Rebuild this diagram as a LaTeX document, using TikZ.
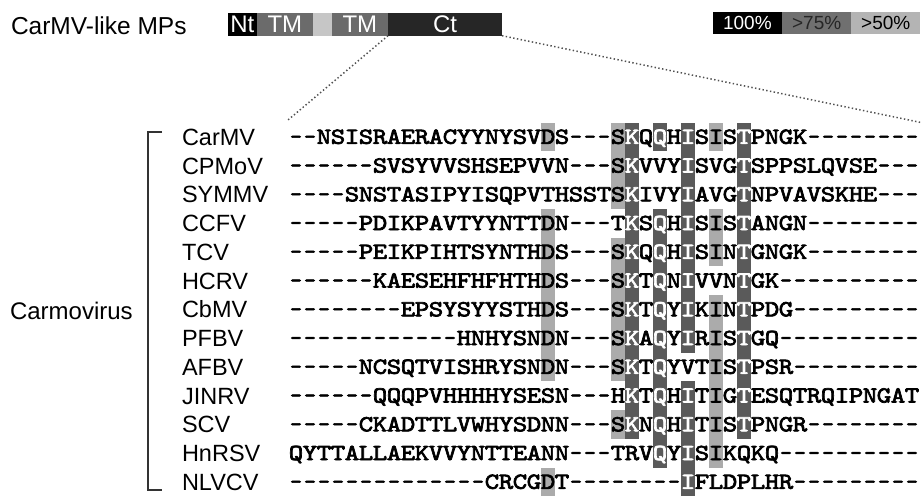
\documentclass[tikz,border=0pt]{standalone}
\usepackage{fontspec}
\setmainfont{Liberation Sans}
\newfontfamily\seqff{lmmono10-regular.otf}[FakeBold=3,FakeStretch=1.2]
\newfontfamily\dashff{lmmono10-regular.otf}[FakeBold=2]
\definecolor{dk}{HTML}{5A5A5A}
\definecolor{lt}{HTML}{ABABAB}
\definecolor{tmgray}{HTML}{6B6B6B}
\definecolor{tmlight}{HTML}{C6C6C6}
\definecolor{ctdark}{HTML}{262626}
\definecolor{lg75}{HTML}{707070}
\definecolor{lg50}{HTML}{B4B4B4}
\definecolor{dotc}{HTML}{505050}
\newcount\seqcol
\newcommand\seqfont{\fontsize{23}{23}\selectfont\seqff}
\newcommand\dashfont{\fontsize{23}{23}\selectfont\dashff}
\newcommand\seqchar[1]{%
  \edef\seqname{c\seqr-\the\seqcol}%
  \ifx-#1\relax
    \node[seqd] (\seqname) at ({296+14*\the\seqcol},{143.8+28.75*\seqr}) {-};%
  \else
  \ifnum`#1>`Z\relax
    \node[seqw] (\seqname) at ({296+14*\the\seqcol},{143.8+28.75*\seqr}) {\uppercase{#1}};%
  \else
    \node[seqk] (\seqname) at ({296+14*\the\seqcol},{143.8+28.75*\seqr}) {#1};%
  \fi\fi}
\def\seqloop#1{\ifx\relax#1\else\seqchar{#1}\global\advance\seqcol by 1\relax\expandafter\seqloop\fi}
\newcommand\seqrow[2]{\global\seqcol=0\relax\def\seqr{#1}\seqloop#2\relax}
\newcommand\shadebar[4]{\fill[#4] ({289+14*#1},{122.6+28.75*#2}) rectangle ({303+14*#1},{122.6+28.75*(#3+1)});}
\begin{document}
\begin{tikzpicture}[x=1pt,y=-1pt,
  every node/.style={inner sep=0pt,outer sep=0pt},
  seqk/.style={font=\seqfont,text=black,anchor=base},
  seqw/.style={seqk,text=white},
  seqd/.style={font=\dashfont,text=black,anchor=base},
  namelbl/.style={font=\fontsize{23.5}{23.5}\selectfont,anchor=base west},
  domseg/.style={minimum height=22.4pt,text=white,font=\fontsize{24}{24}\selectfont},
  legseg/.style={minimum height=22pt,font=\fontsize{19}{19}\selectfont},
  dotline/.style={dotc,line width=1.5pt,dash pattern=on 1.4pt off 2.4pt},
  bracket/.style={line width=1.1pt,black!80}]
\useasboundingbox (0,0) rectangle (924,498);
% title
\node[anchor=base west,font=\fontsize{24.5}{24.5}\selectfont] (title) at (11,34) {CarMV-like MPs};
% domain bar
\node[domseg,fill=black,minimum width=28.7pt] (nt) at (242.35,24.5) {Nt};
\node[domseg,fill=tmgray,minimum width=56.3pt] (tm1) at (284.85,24.5) {TM};
\node[domseg,fill=tmlight,minimum width=18.7pt] (gap) at (322.35,24.5) {};
\node[domseg,fill=tmgray,minimum width=56.3pt] (tm2) at (359.85,24.5) {TM};
\node[domseg,fill=ctdark,minimum width=114pt] (ct) at (445,24.5) {Ct};
% legend
\node[legseg,fill=black,text=white,minimum width=69.3pt] (l100) at (747.35,23.3) {100\%};
\node[legseg,fill=lg75,text=black!85,minimum width=69.3pt] (l75) at (816.65,23.3) {>75\%};
\node[legseg,fill=lg50,text=black,minimum width=69pt] (l50) at (885.8,23.3) {>50\%};
% zoom lines
\coordinate (zl) at (288,120);
\coordinate (zr) at (921,122.5);
\draw[dotline] (ct.south west) -- (zl);
\draw[dotline] (ct.south east) -- (zr);
% shading bars
\shadebar{18}{0}{0}{lt}
\shadebar{18}{3}{8}{lt}
\shadebar{18}{12}{12}{lt}
\shadebar{23}{0}{2}{lt}
\shadebar{23}{4}{8}{lt}
\shadebar{23}{10}{10}{lt}
\shadebar{30}{0}{0}{lt}
\shadebar{30}{3}{4}{lt}
\shadebar{30}{6}{11}{lt}
\shadebar{24}{0}{10}{dk}
\shadebar{26}{0}{0}{dk}
\shadebar{26}{3}{11}{dk}
\shadebar{28}{0}{7}{dk}
\shadebar{28}{9}{12}{dk}
\shadebar{32}{0}{10}{dk}
% sequences
\seqrow{0}{--NSISRAERACYYNYSVDS---SkQqHiSIStPNGK--------}
\seqrow{1}{------SVSYVVSHSEPVVN---SkVVYiSVGtSPPSLQVSE---}
\seqrow{2}{----SNSTASIPYISQPVTHSSTSkIVYiAVGtNPVAVSKHE---}
\seqrow{3}{-----PDIKPAVTYYNTTDN---TkSqHiSIStANGN--------}
\seqrow{4}{-----PEIKPIHTSYNTHDS---SkQqHiSINtGNGK--------}
\seqrow{5}{------KAESEHFHFHTHDS---SkTqNiVVNtGK----------}
\seqrow{6}{--------EPSYSYYSTHDS---SkTqYiKINtPDG---------}
\seqrow{7}{------------HNHYSNDN---SkAqYiRIStGQ----------}
\seqrow{8}{-----NCSQTVISHRYSNDN---SkTqYVTIStPSR---------}
\seqrow{9}{------QQQPVHHHHYSESN---HkTqHiTIGtESQTRQIPNGAT}
\seqrow{10}{-----CKADTTLVWHYSDNN---SkNqHiTIStPNGR--------}
\seqrow{11}{QYTTALLAEKVVYNTTEANN---TRVqYiSIKQKQ----------}
\seqrow{12}{--------------CRCGDT--------iFLDPLHR---------}
% names
\node[namelbl] (n0) at (182,145.3) {CarMV};
\node[namelbl] (n1) at (182,174.05) {CPMoV};
\node[namelbl] (n2) at (182,202.8) {SYMMV};
\node[namelbl] (n3) at (182,231.55) {CCFV};
\node[namelbl] (n4) at (182,260.3) {TCV};
\node[namelbl] (n5) at (182,289.05) {HCRV};
\node[namelbl] (n6) at (182,317.8) {CbMV};
\node[namelbl] (n7) at (182,346.55) {PFBV};
\node[namelbl] (n8) at (182,375.3) {AFBV};
\node[namelbl] (n9) at (182,404.05) {JINRV};
\node[namelbl] (n10) at (182,432.8) {SCV};
\node[namelbl] (n11) at (182,461.55) {HnRSV};
\node[namelbl] (n12) at (182,490.3) {NLVCV};
% bracket
\coordinate (bt) at (162,132);
\coordinate (bb) at (162,490);
\draw[bracket] (bt) -- (148,132) -- (148,490) -- (bb);
\node[anchor=base west,font=\fontsize{24}{24}\selectfont] (genus) at (10,319.5) {Carmovirus};
\end{tikzpicture}
\end{document}
